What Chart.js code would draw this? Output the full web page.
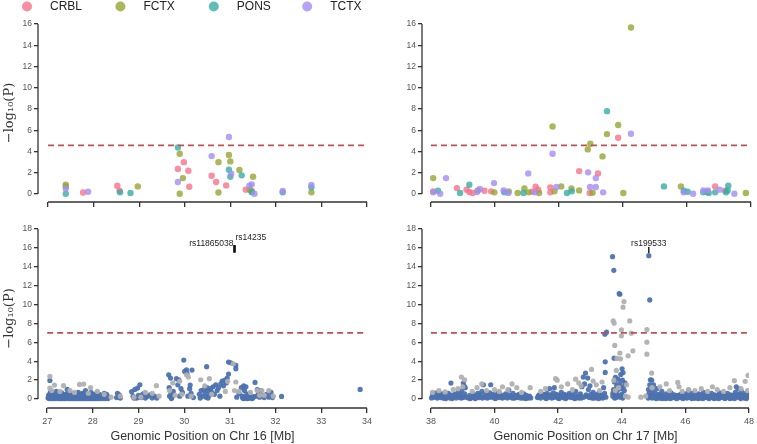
<!DOCTYPE html>
<html>
<head>
<meta charset="utf-8">
<script src="https://cdn.jsdelivr.net/npm/chart.js@4.4.1/dist/chart.umd.min.js"></script>
<style>
  body { margin: 0; background: #fff; }
  #wrap { position: relative; width: 757px; height: 444px; }
  #wrap canvas { position: absolute; left: 0; top: 0; }
</style>
</head>
<body>
<div id="wrap">
  <canvas id="tl" width="757" height="444"></canvas>
  <canvas id="tr" width="757" height="444"></canvas>
  <canvas id="bl" width="757" height="444"></canvas>
  <canvas id="br" width="757" height="444"></canvas>
</div>
<script>
// tissues shown in the top row
const tissues = ['CRBL', 'FCTX', 'PONS', 'TCTX'];
const tissueColors = ['rgba(247,113,137,0.8)', 'rgba(151,164,49,0.8)', 'rgba(54,173,164,0.8)', 'rgba(164,140,244,0.8)'];

// ticks
const chr16Ticks = [27, 28, 29, 30, 31, 32, 33, 34];
const chr17Ticks = [38, 40, 42, 44, 46, 48];
const topYTicks = [0, 2, 4, 6, 8, 10, 12, 14, 16];
const bottomYTicks = [0, 2, 4, 6, 8, 10, 12, 14, 16, 18];

// significance thresholds
const topThreshold = 4.57;
const bottomThreshold = 7.0;

// top row: eQTL per tissue, chr16 [Mb, -log10 P]
const chr16Crbl = [[27.77,0.15],[28.52,0.78],[28.57,0.31],[29.85,2.35],[29.98,3.0],[30.08,2.19],[30.1,0.69],[30.59,1.72],[30.69,1.13],[30.91,0.81],[31.34,0.41]];
const chr16Fctx = [[27.39,0.88],[27.39,0.72],[28.97,0.72],[29.89,3.79],[29.96,1.5],[29.89,0.03],[30.74,3.0],[30.74,0.15],[30.97,3.67],[31.0,3.07],[31.2,2.26],[31.5,1.63],[31.43,0.41],[31.47,0.28],[32.78,0.16]];
const chr16Pons = [[27.39,0.03],[28.58,0.16],[28.81,0.1],[29.85,4.39],[30.97,2.29],[31.0,1.63],[31.25,1.76],[31.47,0.16],[32.15,0.16],[32.78,0.63]];
const chr16Tctx = [[27.39,0.53],[27.88,0.22],[29.85,1.13],[30.59,3.57],[30.97,5.36],[31.02,1.91],[31.42,0.78],[31.47,0.91],[31.53,0.03],[32.15,0.28],[32.78,0.85]];

// top row: eQTL per tissue, chr17
const chr17Crbl = [[38.07,0.25],[38.81,0.56],[39.11,0.41],[39.2,0.19],[39.3,0.1],[39.67,0.31],[39.88,0.25],[41.16,0.22],[41.27,0.69],[41.35,0.41],[41.73,0.63],[41.73,0.16],[42.63,2.16],[42.96,0.1],[43.22,1.94],[43.85,5.3],[46.88,0.72],[47.19,0.31]];
const chr17Fctx = [[38.07,1.5],[39.46,0.34],[39.98,0.16],[40.43,0.25],[40.71,0.1],[40.92,0.53],[41.05,0.16],[41.38,0.1],[41.8,6.36],[41.86,0.25],[42.07,0.72],[42.39,0.53],[42.63,0.34],[42.9,4.2],[42.98,4.73],[43.05,0.13],[43.36,3.54],[43.5,5.64],[43.85,6.49],[44.01,0.1],[44.25,15.67],[45.81,0.72],[46.63,0.19],[47.84,0.1]];
const chr17Pons = [[38.22,0.31],[38.91,0.1],[39.2,0.88],[40.29,0.16],[40.89,0.1],[42.25,0.1],[42.4,0.25],[43.5,7.8],[45.28,0.72],[45.9,0.31],[46.02,0.22],[46.51,0.16],[46.68,0.1],[46.88,0.16],[47.22,0.16],[47.29,0.78],[47.27,0.34]];
const chr17Tctx = [[38.07,0.16],[38.29,0.03],[38.47,1.5],[39.44,0.19],[39.53,0.47],[39.97,1.03],[40.27,0.34],[40.42,0.1],[41.04,1.94],[41.25,0.16],[41.8,3.79],[41.92,0.66],[42.91,2.04],[42.97,0.66],[43.15,1.5],[43.15,0.66],[43.38,0.16],[44.25,5.67],[45.9,0.16],[46.19,0.03],[46.51,0.34],[46.65,0.34],[47.02,0.41],[47.48,0.03]];

// bottom row: GWAS, chr16 (blue and grey SNPs)
const chr16Blue = [[27.02,0.1],[27.04,0.45],[27.06,1.97],[27.07,0.7],[27.09,0.2],[27.11,0.55],[27.13,0.1],[27.15,0.4],[27.17,0.2],[27.2,0.8],[27.22,0.15],[27.24,0.5],[27.26,0.1],[27.28,0.35],[27.3,0.2],[27.32,0.65],[27.34,0.1],[27.36,0.45],[27.38,0.2],[27.41,0.5],[27.44,1.02],[27.46,0.1],[27.48,0.3],[27.5,0.6],[27.52,0.15],[27.54,0.4],[27.56,0.1],[27.58,0.55],[27.6,0.2],[27.62,0.45],[27.64,0.1],[27.66,0.35],[27.68,0.7],[27.7,0.15],[27.72,0.5],[27.74,0.1],[27.76,0.4],[27.78,0.2],[27.8,0.6],[27.82,0.1],[27.84,0.9],[27.86,0.3],[27.88,0.6],[27.9,0.15],[27.92,0.45],[27.94,0.1],[27.96,0.7],[27.98,0.25],[28.0,0.5],[28.02,0.1],[28.04,0.35],[28.06,0.15],[28.08,0.6],[28.1,0.1],[28.12,0.3],[28.14,0.5],[28.16,0.15],[28.19,0.4],[28.22,0.1],[28.25,0.6],[28.28,0.2],[28.31,0.35],[28.34,0.15],
  [28.52,0.15],[28.54,0.6],[28.56,0.3],[28.58,0.45],[28.6,0.1],
  [28.85,0.78],[28.88,0.3],[28.92,1.02],[28.95,0.1],[28.98,1.16],[29.0,0.4],[29.03,1.51],[29.06,0.15],[29.09,0.5],[29.12,0.6],[29.15,0.1],[29.2,0.3],[29.25,0.45],[29.3,0.12],[29.35,0.3],[29.4,0.1],
  [29.66,2.57],[29.67,1.2],[29.7,2.22],[29.71,0.5],[29.73,0.2],[29.76,0.8],[29.83,2.15],[29.86,1.5],[29.88,2.04],[29.9,0.3],[29.93,1.1],[29.96,0.7],[29.99,4.12],[30.01,2.92],[30.05,3.1],[30.06,2.72],[30.08,0.3],[30.12,1.1],[30.13,1.48],[30.15,0.6],[30.17,3.06],[30.2,0.15],
  [30.33,0.5],[30.37,0.9],[30.4,0.3],[30.43,1.0],[30.46,0.6],[30.49,3.42],[30.5,1.2],[30.52,0.9],[30.55,0.4],[30.58,1.1],[30.6,0.7],[30.63,1.3],[30.66,0.5],[30.69,1.5],[30.72,0.9],[30.75,1.2],[30.78,0.3],[30.8,1.6],[30.83,1.9],[30.86,1.4],[30.89,2.0],[30.92,1.7],[30.94,2.22],[30.97,2.64],[30.97,3.91],[31.02,3.84],[31.13,3.56],[31.13,3.2],[31.15,0.2],[31.2,0.6],[31.25,1.2],[31.27,0.3],[31.3,1.4],[31.32,0.9],[31.33,0.2],[31.35,1.3],[31.37,0.5],[31.4,0.15],[31.43,0.6],[31.46,0.2],[31.5,0.1],[31.55,1.76],[31.58,0.3],[31.6,1.0],[31.63,0.6],[31.65,0.2],[31.68,0.9],[31.72,0.4],[31.75,0.15],[31.8,0.5],[31.85,0.2],[31.9,0.7],[31.93,0.15],[32.13,0.28],[33.85,1.02]];
// extra low-lying chr16 blue SNPs that fill the dense band
const chr16BlueLow = [[27.03,0.3],[27.05,0.05],[27.08,0.35],[27.1,0.05],[27.12,0.3],[27.14,0.05],[27.16,0.3],[27.19,0.05],[27.21,0.35],[27.23,0.6],[27.25,0.05],[27.27,0.3],[27.29,0.05],[27.31,0.4],[27.33,0.05],[27.35,0.25],[27.37,0.05],[27.39,0.3],[27.4,0.05],[27.43,0.3],[27.45,0.6],[27.47,0.05],[27.49,0.5],[27.51,0.05],[27.53,0.3],[27.55,0.05],[27.57,0.3],[27.59,0.05],[27.61,0.3],[27.63,0.05],[27.65,0.55],[27.67,0.05],[27.69,0.3],[27.71,0.05],[27.73,0.3],[27.75,0.05],[27.77,0.6],[27.79,0.05],[27.81,0.3],[27.83,0.05],[27.85,0.5],[27.87,0.05],[27.89,0.3],[27.91,0.05],[27.93,0.3],[27.95,0.05],[27.97,0.4],[27.99,0.05],[28.01,0.3],[28.03,0.05],[28.05,0.3],[28.07,0.05],[28.09,0.35],[28.11,0.05],[28.13,0.3],[28.15,0.05],[28.18,0.3],[28.21,0.05],[28.24,0.3],[28.27,0.05],[28.3,0.5],[28.33,0.05],
  [28.9,0.1],[29.0,0.15],[29.68,0.3],[29.72,0.05],[30.35,0.1],[30.48,0.2],[30.52,0.1],[31.28,0.1],[31.3,0.05],[31.34,0.1],[31.38,0.05],[31.42,0.1],[31.44,0.3],[31.48,0.05],[31.52,0.25]];
const chr16Grey = [[27.06,2.39],[27.06,1.16],[27.16,1.48],[27.1,0.9],[27.28,0.8],[27.36,1.41],[27.5,0.9],[27.6,0.7],[27.71,1.55],[27.8,1.59],[27.9,0.6],[27.95,1.2],[28.1,0.8],[28.25,0.5],[28.4,0.2],[28.6,0.3],[28.9,0.2],[29.05,0.2],[29.15,0.7],[29.3,0.6],[29.39,1.41],[29.45,0.3],[29.68,0.9],[29.75,1.7],[29.8,0.4],[29.9,1.87],[29.95,0.5],[30.05,2.57],[30.09,2.32],[30.15,0.3],[30.36,2.04],[30.45,1.4],[30.55,2.15],[30.6,0.5],[30.9,0.8],[30.95,1.87],[31.07,3.73],[31.1,0.9],[31.13,1.8],[31.2,0.8],[31.45,0.7],[31.6,0.9],[31.65,0.4],[31.7,0.9],[31.75,0.4],[31.85,0.9],[31.95,0.3]];

// bottom row: GWAS, chr17
const chr17Blue = [[38.02,0.12],[38.05,0.45],[38.1,0.2],[38.14,0.62],[38.2,0.1],[38.24,0.4],[38.3,0.15],[38.35,0.55],[38.4,0.08],[38.45,0.35],[38.5,0.18],[38.55,0.6],[38.6,0.1],[38.63,1.69],[38.65,0.42],[38.7,0.2],[38.75,0.5],[38.8,0.12],[38.85,0.7],[38.9,0.2],[38.93,0.45],[38.97,0.9],[39.0,0.15],[39.02,1.69],[39.04,1.4],[39.06,0.55],[39.08,1.2],[39.1,0.2],
  [39.18,0.1],[39.22,0.4],[39.27,0.15],[39.32,0.5],[39.37,0.1],[39.42,0.3],[39.47,0.6],[39.52,0.15],[39.56,0.45],[39.6,0.8],[39.65,1.51],[39.68,0.2],[39.72,0.55],[39.77,0.1],[39.8,0.4],[39.85,0.65],[39.88,1.51],[39.9,0.2],[39.95,0.5],[40.0,0.1],[40.05,0.35],[40.1,0.6],[40.15,0.15],[40.2,0.45],[40.25,0.1],[40.3,0.3],[40.35,0.55],[40.4,0.12],[40.45,0.95],[40.48,0.4],[40.53,0.2],[40.58,0.6],[40.62,0.1],[40.67,0.35],[40.72,0.15],[40.77,0.5],[40.82,0.1],[40.87,0.3],[40.92,0.55],[40.96,0.15],[41.0,0.4],[41.05,0.1],[41.1,0.3],[41.14,0.12],
  [41.35,0.15],[41.4,0.45],[41.45,0.1],[41.5,0.3],[41.55,0.5],[41.6,0.12],[41.65,0.6],[41.7,0.2],[41.73,1.1],[41.76,0.45],[41.8,0.1],[41.85,0.65],[41.88,1.2],[41.9,0.2],[41.95,0.5],[42.0,0.1],[42.05,0.4],[42.1,0.7],[42.15,0.15],[42.2,0.5],[42.25,0.1],[42.3,0.35],[42.35,0.6],[42.4,0.15],[42.45,0.45],[42.5,0.1],[42.55,0.8],[42.6,0.3],[42.65,0.1],[42.7,0.55],[42.75,1.3],[42.79,2.32],[42.8,0.2],[42.83,1.6],[42.86,2.75],[42.88,0.45],[42.93,2.22],[42.95,1.0],[42.98,0.15],[43.0,1.4],[43.03,0.5],[43.07,0.1],[43.1,0.7],[43.15,0.3],[43.2,0.12],[43.25,0.55],[43.3,0.2],[43.35,0.45],[43.4,0.1],[43.43,1.2],[43.46,0.6],[43.47,6.87],[43.48,3.94],[43.48,2.82],[43.5,0.2],[43.52,7.08],
  [43.71,15.07],[43.75,13.63],[43.72,0.3],[43.74,1.0],[43.76,4.33],[43.77,1.8],[43.79,0.6],[43.8,2.3],[43.82,0.15],[43.84,1.4],[43.86,0.9],[43.88,2.1],[43.9,0.4],[43.92,11.16],[43.94,11.09],[43.93,1.6],[43.95,0.2],[43.97,2.6],[43.98,1.1],[44.0,0.5],[44.01,3.2],[44.02,2.0],[44.04,2.8],[44.05,1.3],[44.06,0.3],[44.08,0.9],[44.1,1.7],
  [44.85,15.18],[44.88,10.49],[44.82,0.3],[44.84,1.0],[44.86,0.6],[44.88,1.5],[44.9,2.04],[44.92,0.2],[44.94,2.0],[44.96,0.9],[44.98,0.45],[45.0,1.5],[45.03,0.15],[45.06,0.6],[45.1,1.1],[45.14,0.3],[45.18,0.5],[45.22,0.1],[45.26,0.8],[45.3,0.35],[45.35,0.15],[45.4,0.55],[45.45,0.1],[45.5,0.3],[45.55,0.65],[45.6,0.15],[45.65,0.45],[45.7,0.1],[45.75,0.35],[45.8,0.15],[45.85,0.5],[45.9,0.1],[45.95,0.3],[46.0,0.55],[46.05,0.1],[46.1,0.95],[46.12,0.4],[46.17,0.15],[46.22,0.6],[46.27,0.1],[46.32,0.35],[46.37,0.15],[46.42,0.55],[46.47,0.1],[46.52,0.4],[46.57,0.7],[46.62,0.15],[46.67,0.45],[46.72,0.1],[46.77,0.3],[46.82,0.6],[46.87,0.15],[46.92,0.45],[46.97,0.1],[47.02,0.35],[47.07,0.65],[47.12,0.15],[47.17,0.5],[47.22,0.1],[47.27,0.3],[47.32,0.6],[47.37,0.15],[47.42,0.45],[47.47,0.1],[47.52,0.4],[47.57,0.7],[47.6,1.3],[47.62,0.2],[47.65,1.1],[47.67,0.5],[47.72,0.15],[47.76,0.8],[47.8,0.35],[47.85,0.1],[47.9,0.6],[47.94,0.2],[47.98,0.45]];
// extra low-lying chr17 blue SNPs that fill the dense band
const chr17BlueLow = [[38.07,0.3],[38.17,0.25],[38.27,0.35],[38.37,0.2],[38.47,0.05],[38.52,0.4],[38.67,0.05],[38.78,0.35],[38.88,0.4],[38.95,0.1],[39.24,0.05],[39.3,0.3],[39.4,0.05],[39.45,0.2],[39.5,0.4],[39.62,0.1],[39.74,0.3],[39.83,0.2],[39.98,0.3],[40.03,0.05],[40.08,0.25],[40.18,0.3],[40.28,0.2],[40.38,0.35],[40.43,0.2],[40.56,0.1],[40.65,0.15],[40.7,0.4],[40.8,0.3],[40.9,0.1],[40.98,0.05],[41.08,0.2],
  [41.38,0.3],[41.48,0.35],[41.58,0.3],[41.63,0.05],[41.68,0.4],[41.78,0.3],[41.83,0.2],[41.98,0.3],[42.03,0.05],[42.08,0.25],[42.18,0.3],[42.23,0.05],[42.28,0.2],[42.38,0.35],[42.48,0.3],[42.53,0.05],[42.58,0.2],[42.68,0.3],[42.73,0.1],[42.9,0.3],[43.05,0.3],[43.12,0.1],[43.18,0.4],[43.23,0.3],[43.28,0.05],[43.33,0.3],[43.38,0.2],[43.42,0.3],
  [43.72,0.6],[43.78,0.1],[43.85,0.3],[43.98,0.3],[44.03,0.1],
  [44.83,0.1],[44.9,0.3],[44.95,0.1],[45.01,0.3],[45.08,0.05],[45.12,0.2],[45.16,0.1],[45.2,0.3],[45.24,0.2],[45.28,0.05],[45.33,0.3],[45.38,0.05],[45.42,0.3],[45.48,0.35],[45.53,0.05],[45.58,0.3],[45.63,0.2],[45.68,0.35],[45.73,0.05],[45.78,0.4],[45.83,0.3],[45.88,0.3],[45.93,0.05],[45.98,0.2],[46.03,0.35],[46.08,0.2],[46.15,0.3],[46.2,0.05],[46.25,0.3],[46.3,0.1],[46.35,0.4],[46.4,0.05],[46.45,0.3],[46.5,0.15],[46.55,0.05],[46.6,0.35],[46.65,0.2],[46.7,0.3],[46.75,0.05],[46.8,0.2],[46.85,0.35],[46.9,0.05],[46.95,0.3],[47.0,0.2],[47.05,0.05],[47.1,0.3],[47.15,0.2],[47.2,0.35],[47.25,0.05],[47.3,0.2],[47.35,0.35],[47.4,0.05],[47.45,0.3],[47.5,0.2],[47.55,0.05],[47.7,0.35],[47.74,0.05],[47.78,0.3],[47.83,0.4],[47.88,0.2],[47.92,0.05],[47.96,0.3]];
const chr17Grey = [[38.05,0.7],[38.25,0.9],[38.45,0.75],[38.7,1.0],[38.85,1.1],[38.96,2.32],[39.06,2.04],[39.0,1.3],[39.3,0.8],[39.45,1.2],[39.6,1.6],[39.75,0.9],[40.0,1.0],[40.15,0.8],[40.25,1.3],[40.42,1.0],[40.55,1.6],[40.7,1.2],[40.85,0.7],[41.12,1.2],[41.45,0.8],[41.6,1.1],[41.92,2.15],[41.97,2.0],[42.1,1.3],[42.3,1.6],[42.45,1.0],[42.55,2.1],[42.65,1.7],[42.72,1.4],[43.05,3.13],[43.1,1.9],[43.2,1.5],[43.3,0.9],[43.38,1.8],[43.73,8.27],[43.76,8.03],[43.78,5.67],[43.83,3.03],[43.85,4.3],[43.94,4.86],[43.96,4.26],[43.99,7.32],[43.99,6.69],[44.04,9.72],[44.07,10.32],[44.2,4.58],[44.25,8.27],[44.3,6.97],[44.35,5.1],[43.75,2.0],[43.8,0.9],[43.9,1.2],[44.12,0.3],[44.15,1.5],[44.2,0.2],[44.6,0.2],[44.75,0.3],[44.79,7.36],[44.79,6.02],[44.79,4.75],[44.94,2.75],[44.95,1.2],[45.2,1.3],[45.4,1.6],[45.5,0.9],[45.76,1.76],[45.8,1.3],[45.9,0.8],[46.1,1.0],[46.3,0.9],[46.5,1.1],[46.7,0.8],[46.85,1.3],[47.0,1.0],[47.2,0.8],[47.4,1.2],[47.54,1.94],[47.75,1.1],[47.88,1.87],[47.97,2.5],[47.95,0.9]];

// labelled SNPs
const chr16SnpNames = ['rs11865038', 'rs14235'];
const chr16SnpPos = [31.1, 31.1];
const chr17SnpNames = ['rs199533'];
const chr17SnpPos = [44.85];

Chart.defaults.font.family = "'Liberation Sans', Arial, sans-serif";
Chart.defaults.color = '#444';

const toPoints = arr => arr.map(p => ({ x: p[0], y: p[1] }));

// seaborn-like offset spines, trimmed to first/last tick
const spines = {
    id: 'spines',
    afterDraw(chart) {
        const { ctx, chartArea, scales } = chart;
        const xs = scales.x, ys = scales.y;
        ctx.save();
        ctx.strokeStyle = '#333';
        ctx.lineWidth = 1.3;
        ctx.beginPath();
        ctx.moveTo(chartArea.left, ys.getPixelForValue(ys.ticks[0].value));
        ctx.lineTo(chartArea.left, ys.getPixelForValue(ys.ticks[ys.ticks.length - 1].value));
        ctx.moveTo(xs.getPixelForValue(xs.ticks[0].value), chartArea.bottom);
        ctx.lineTo(xs.getPixelForValue(xs.ticks[xs.ticks.length - 1].value), chartArea.bottom);
        ctx.stroke();
        ctx.restore();
    }
};

// legend row above the top-left panel
const legendRow = {
    id: 'legendRow',
    afterDraw(chart, args, opts) {
        if (!opts.show) return;
        const ctx = chart.ctx;
        ctx.save();
        ctx.font = "12px 'Liberation Sans', Arial, sans-serif";
        ctx.textBaseline = 'middle';
        tissues.forEach((name, i) => {
            const cx = 27 + i * 93.4;
            ctx.fillStyle = tissueColors[i];
            ctx.beginPath();
            ctx.arc(cx, 6.5, 5, 0, Math.PI * 2);
            ctx.fill();
            ctx.fillStyle = '#222';
            ctx.fillText(name, cx + 23, 7);
        });
        ctx.restore();
    }
};

// SNP name labels with a short tick
const snpLabels = {
    id: 'snpLabels',
    afterDatasetsDraw(chart, args, opts) {
        if (!opts.items) return;
        const { ctx, scales } = chart;
        ctx.save();
        ctx.font = "8.5px 'Liberation Sans', Arial, sans-serif";
        ctx.fillStyle = '#222';
        ctx.strokeStyle = '#111';
        ctx.textBaseline = 'middle';
        opts.items.forEach(it => {
            const px = scales.x.getPixelForValue(it.x);
            ctx.lineWidth = it.thick;
            ctx.beginPath();
            ctx.moveTo(px, scales.y.getPixelForValue(it.from));
            ctx.lineTo(px, scales.y.getPixelForValue(it.to));
            ctx.stroke();
            ctx.textAlign = it.align;
            ctx.fillText(it.name, px + it.dx, scales.y.getPixelForValue(it.textY));
        });
        ctx.restore();
    }
};

Chart.register(spines, legendRow, snpLabels);

function makePanel(id, cfg) {
    const xTicks = cfg.xTicks, yTicks = cfg.yTicks;
    const threshold = {
        type: 'line',
        data: [{ x: xTicks[0], y: cfg.threshold }, { x: xTicks[xTicks.length - 1], y: cfg.threshold }],
        borderColor: '#c44e52',
        borderWidth: 1.8,
        borderDash: [6, 4],
        pointRadius: 0,
        order: -1
    };
    new Chart(document.getElementById(id), {
        type: 'scatter',
        data: { datasets: cfg.datasets.concat([threshold]) },
        options: {
            responsive: false,
            animation: false,
            layout: { padding: cfg.padding },
            plugins: {
                legend: { display: false },
                tooltip: { enabled: false },
                legendRow: { show: !!cfg.legend },
                snpLabels: { items: cfg.snps }
            },
            scales: {
                x: {
                    type: 'linear',
                    min: cfg.xMin,
                    max: xTicks[xTicks.length - 1],
                    afterBuildTicks: s => { s.ticks = xTicks.map(v => ({ value: v })); },
                    afterFit: s => { s.height = cfg.xHeight; },
                    border: { display: false },
                    grid: { drawOnChartArea: false, color: '#333', lineWidth: 1.3, tickLength: 5 },
                    ticks: { display: cfg.xLabels, padding: 3, color: '#555', font: { size: 9 } },
                    title: {
                        display: !!cfg.xTitle,
                        text: cfg.xTitle || '',
                        color: '#333',
                        padding: { top: 2, bottom: 0 },
                        font: { size: 12.5 }
                    }
                },
                y: {
                    min: cfg.yMin,
                    max: yTicks[yTicks.length - 1],
                    afterBuildTicks: s => { s.ticks = yTicks.map(v => ({ value: v })); },
                    afterFit: s => { s.width = cfg.yWidth; },
                    border: { display: false },
                    grid: { drawOnChartArea: false, color: '#333', lineWidth: 1.3, tickLength: 4 },
                    ticks: { padding: 2, color: '#555', font: { size: 8.5 } },
                    title: {
                        display: !!cfg.yTitle,
                        text: '\u2212log\u2081\u2080(P)',
                        color: '#333',
                        padding: { top: 2, bottom: 0 },
                        font: { family: "'DejaVu Serif', serif", size: 13 }
                    }
                }
            }
        }
    });
}

const tissueSets = arrs => arrs.map((arr, i) => ({
    label: tissues[i],
    data: toPoints(arr),
    backgroundColor: tissueColors[i],
    borderWidth: 0,
    pointRadius: 3.2,
    order: tissues.length - i
}));

const gwasSets = (blue, grey) => [
    { label: 'blue', data: toPoints(blue), backgroundColor: 'rgba(76,114,176,0.95)', borderWidth: 0, pointRadius: 2.6, order: 2 },
    { label: 'grey', data: toPoints(grey), backgroundColor: 'rgba(176,176,176,0.95)', borderWidth: 0, pointRadius: 2.6, order: 1 }
];

makePanel('tl', {
    datasets: tissueSets([chr16Crbl, chr16Fctx, chr16Pons, chr16Tctx]),
    xTicks: chr16Ticks, yTicks: topYTicks, xMin: 26.78, yMin: -0.75,
    threshold: topThreshold, legend: true, yTitle: true, xLabels: false,
    yWidth: 38, xHeight: 10,
    padding: { left: 0, top: 24, right: 390, bottom: 232 }
});

makePanel('tr', {
    datasets: tissueSets([chr17Crbl, chr17Fctx, chr17Pons, chr17Tctx]),
    xTicks: chr17Ticks, yTicks: topYTicks, xMin: 37.72, yMin: -0.75,
    threshold: topThreshold, yTitle: false, xLabels: false,
    yWidth: 30, xHeight: 10,
    padding: { left: 392, top: 24, right: 6, bottom: 232 }
});

makePanel('bl', {
    datasets: gwasSets(chr16Blue.concat(chr16BlueLow), chr16Grey),
    xTicks: chr16Ticks, yTicks: bottomYTicks, xMin: 26.8, yMin: -0.95,
    threshold: bottomThreshold, yTitle: true, xLabels: true,
    xTitle: 'Genomic Position on Chr 16 [Mb]',
    yWidth: 38, xHeight: 36,
    padding: { left: 0, top: 229, right: 390, bottom: 0 },
    snps: [
        { name: chr16SnpNames[0], x: chr16SnpPos[0], from: 15.5, to: 16.3, textY: 16.45, align: 'right', dx: -1, thick: 2.2 },
        { name: chr16SnpNames[1], x: chr16SnpPos[1], from: 15.5, to: 16.3, textY: 17.05, align: 'left', dx: 1, thick: 2.2 }
    ]
});

makePanel('br', {
    datasets: gwasSets(chr17Blue.concat(chr17BlueLow), chr17Grey),
    xTicks: chr17Ticks, yTicks: bottomYTicks, xMin: 37.72, yMin: -0.95,
    threshold: bottomThreshold, yTitle: false, xLabels: true,
    xTitle: 'Genomic Position on Chr 17 [Mb]',
    yWidth: 30, xHeight: 36,
    padding: { left: 392, top: 229, right: 6, bottom: 0 },
    snps: [
        { name: chr17SnpNames[0], x: chr17SnpPos[0], from: 15.45, to: 16.1, textY: 16.5, align: 'center', dx: 0, thick: 1.4 }
    ]
});
</script>
</body>
</html>
